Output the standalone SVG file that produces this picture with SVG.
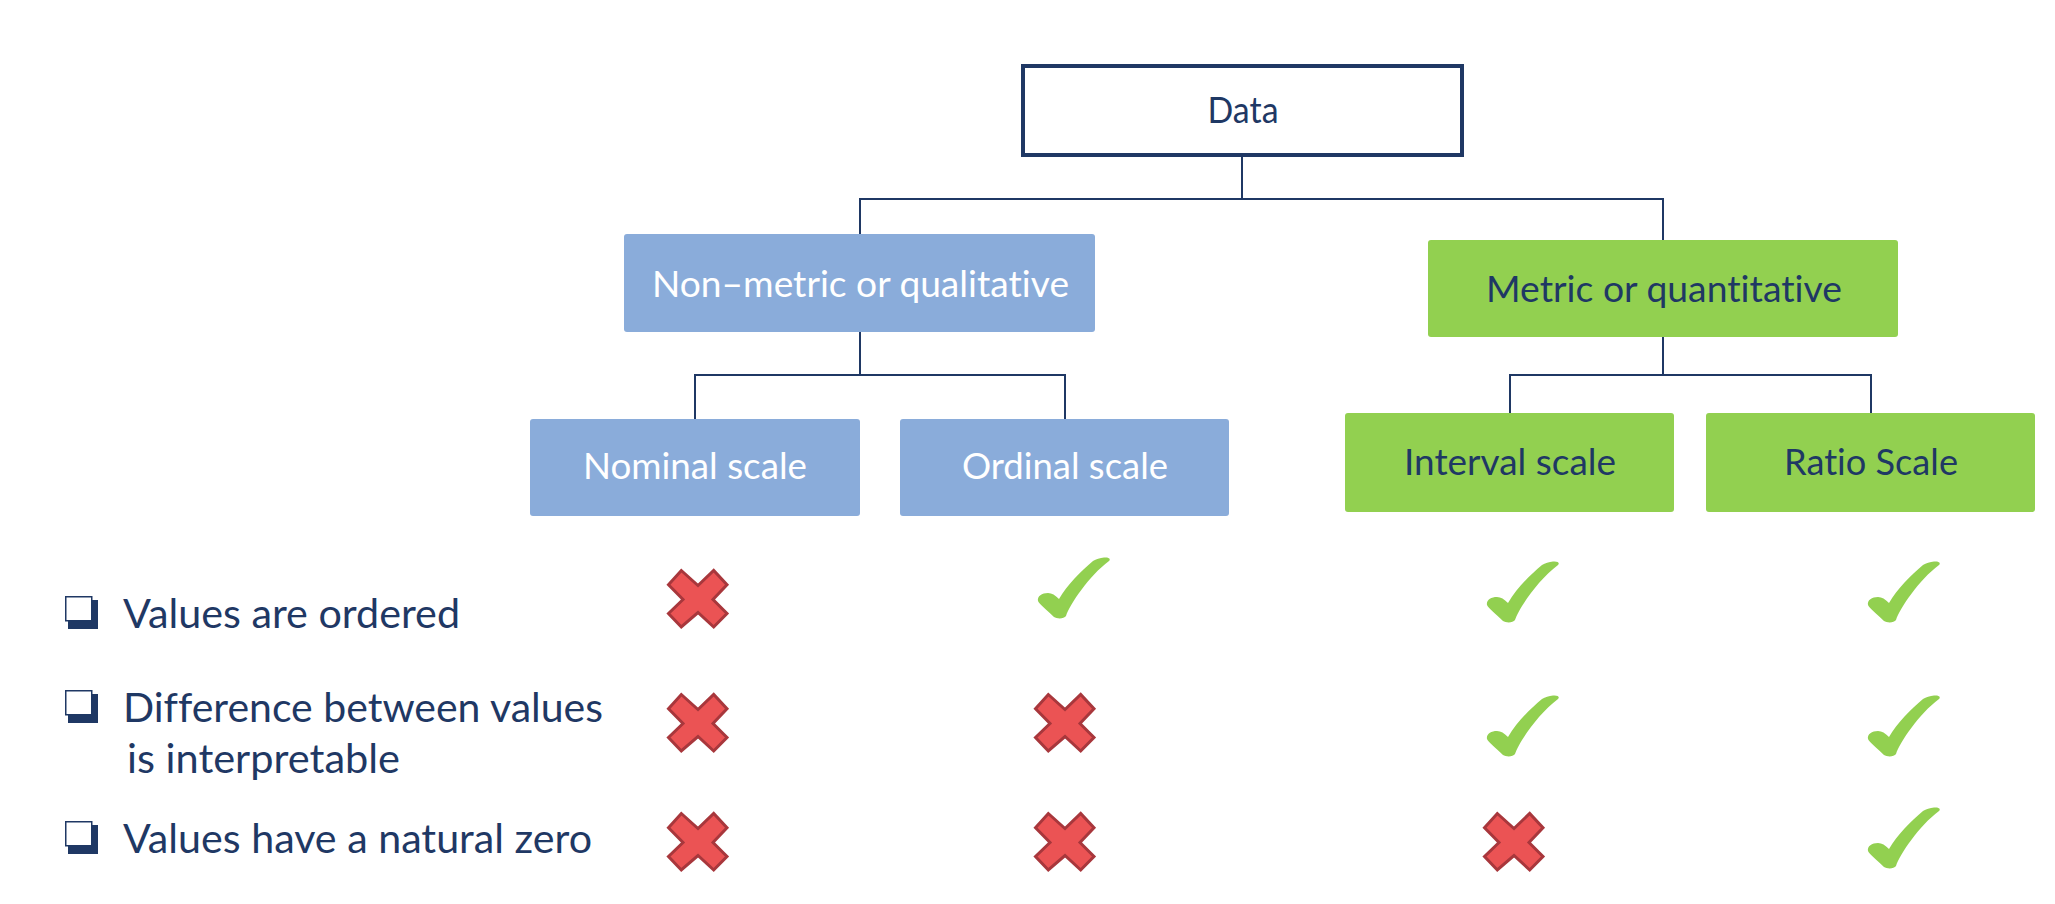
<svg xmlns="http://www.w3.org/2000/svg" xmlns:xlink="http://www.w3.org/1999/xlink" width="2055" height="904" viewBox="0 0 2055 904">
  <style>
    .t { font-family: Lato, "Open Sans", "Liberation Sans", sans-serif; font-variant-ligatures: none; font-feature-settings: "liga" 0, "clig" 0; }
    .node { font-size: 36px; text-anchor: middle; }
    .navy { fill: #1F3864; }
    .white { fill: #FFFFFF; }
    .blue { fill: #8AACDA; }
    .green { fill: #92D050; }
    .conn { stroke: #1F3864; stroke-width: 2; fill: none; }
    .item { font-size: 41px; fill: #1F3864; }
  </style>
  <defs>
    <path id="tick" fill="#92D050" d="M22,42 C18,38 15,36 11,36 C5,36 0,39 1,44 C2,47 10,53 17,60 C20,62 27,62 29,59 C33,47 52,19 72,4 C74,2 72,0 67,0.5 C63,1 59,2 56,4 C44,14 30,28 22,42 Z"/>
    <polygon id="cross" fill="#EB5354" stroke="#A8373C" stroke-width="3" stroke-linejoin="miter" points="14.3,1.5 31,16.5 46.7,1.5 60,15.7 46,30.5 60,44.5 46.7,58 31,43.5 14.3,58 1.5,44.5 16,30.5 1.5,15.7"/>
    <g id="box">
      <rect x="3" y="4" width="30" height="29" fill="#1F3864"/>
      <rect x="0.75" y="0.75" width="26" height="24" fill="#FFFFFF" stroke="#1F3864" stroke-width="1.5"/>
    </g>
  </defs>
  <rect x="0" y="0" width="2055" height="904" fill="#FFFFFF"/>

  <g id="connectors">
    <line class="conn" x1="1242" y1="157" x2="1242" y2="199"/>
    <line class="conn" x1="859" y1="199" x2="1664" y2="199"/>
    <line class="conn" x1="860" y1="199" x2="860" y2="235"/>
    <line class="conn" x1="1663" y1="199" x2="1663" y2="241"/>
    <line class="conn" x1="860" y1="331" x2="860" y2="375"/>
    <line class="conn" x1="694" y1="375" x2="1066" y2="375"/>
    <line class="conn" x1="695" y1="375" x2="695" y2="420"/>
    <line class="conn" x1="1065" y1="375" x2="1065" y2="420"/>
    <line class="conn" x1="1663" y1="336" x2="1663" y2="375"/>
    <line class="conn" x1="1509" y1="375" x2="1872" y2="375"/>
    <line class="conn" x1="1510" y1="375" x2="1510" y2="414"/>
    <line class="conn" x1="1871" y1="375" x2="1871" y2="414"/>
  </g>

  <g id="data">
    <rect x="1023" y="66" width="439" height="89" fill="#FFFFFF" stroke="#1F3864" stroke-width="4"/>
    <text class="t node navy" x="1243" y="123" textLength="71" lengthAdjust="spacingAndGlyphs">Data</text>
  </g>

  <g id="nonmetric">
    <rect class="blue" x="624" y="234" width="471" height="98" rx="3"/>
    <text class="t node white" x="860.5" y="297" textLength="417" lengthAdjust="spacingAndGlyphs">Non–metric or qualitative</text>
  </g>

  <g id="metric">
    <rect class="green" x="1428" y="240" width="470" height="97" rx="3"/>
    <text class="t node navy" x="1664" y="302" textLength="356" lengthAdjust="spacingAndGlyphs">Metric or quantitative</text>
  </g>

  <g id="nominal">
    <rect class="blue" x="530" y="419" width="330" height="97" rx="3"/>
    <text class="t node white" x="695" y="479" textLength="224" lengthAdjust="spacingAndGlyphs">Nominal scale</text>
  </g>

  <g id="ordinal">
    <rect class="blue" x="900" y="419" width="329" height="97" rx="3"/>
    <text class="t node white" x="1065" y="479" textLength="206" lengthAdjust="spacingAndGlyphs">Ordinal scale</text>
  </g>

  <g id="interval">
    <rect class="green" x="1345" y="413" width="329" height="99" rx="3"/>
    <text class="t node navy" x="1510" y="475" textLength="212" lengthAdjust="spacingAndGlyphs">Interval scale</text>
  </g>

  <g id="ratio">
    <rect class="green" x="1706" y="413" width="329" height="99" rx="3"/>
    <text class="t node navy" x="1871" y="475" textLength="174" lengthAdjust="spacingAndGlyphs">Ratio Scale</text>
  </g>

  <g id="criteria">
    <use xlink:href="#box" href="#box" x="65" y="596"/>
    <text class="t item" x="123" y="628" textLength="337" lengthAdjust="spacingAndGlyphs">Values are ordered</text>
    <use xlink:href="#box" href="#box" x="65" y="690"/>
    <text class="t item" x="123" y="722" textLength="480" lengthAdjust="spacingAndGlyphs">Difference between values</text>
    <text class="t item" x="127" y="773" textLength="273" lengthAdjust="spacingAndGlyphs">is interpretable</text>
    <use xlink:href="#box" href="#box" x="65" y="821"/>
    <text class="t item" x="123" y="853" textLength="469" lengthAdjust="spacingAndGlyphs">Values have a natural zero</text>
  </g>

  <g id="marks">
    <use xlink:href="#cross" href="#cross" x="667" y="569"/>
    <use xlink:href="#cross" href="#cross" x="667" y="693"/>
    <use xlink:href="#cross" href="#cross" x="667" y="812"/>
    <use xlink:href="#tick" href="#tick" x="1037" y="557"/>
    <use xlink:href="#cross" href="#cross" x="1034" y="693"/>
    <use xlink:href="#cross" href="#cross" x="1034" y="812"/>
    <use xlink:href="#tick" href="#tick" x="1486" y="561"/>
    <use xlink:href="#tick" href="#tick" x="1486" y="695"/>
    <use xlink:href="#cross" href="#cross" x="1483" y="812"/>
    <use xlink:href="#tick" href="#tick" x="1867" y="561"/>
    <use xlink:href="#tick" href="#tick" x="1867" y="695"/>
    <use xlink:href="#tick" href="#tick" x="1867" y="807"/>
  </g>
</svg>
